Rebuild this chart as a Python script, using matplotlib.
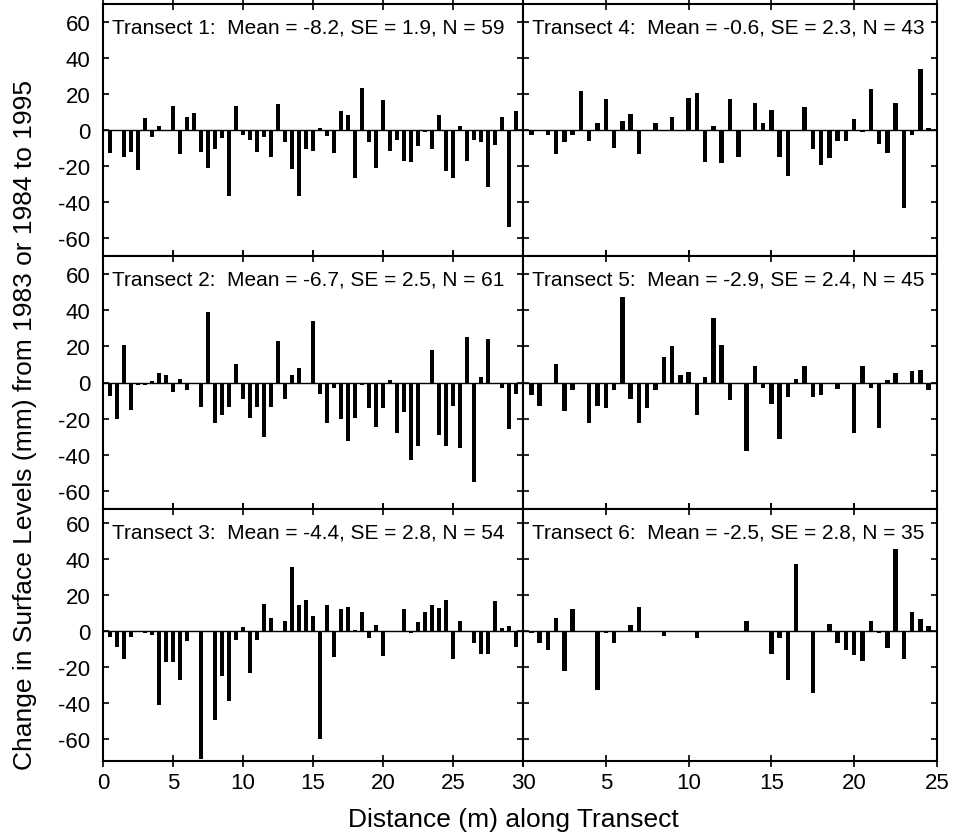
import matplotlib
matplotlib.use("Agg")
import matplotlib.pyplot as plt

plt.rcParams['font.family'] = ['Liberation Sans', 'DejaVu Sans']
plt.rcParams['axes.unicode_minus'] = False

# distance (m) and change (mm)
x1 = [0.5, 1.0, 1.5, 2.0, 2.5, 3.0, 3.5, 4.0, 4.5, 5.0, 5.5, 6.0, 6.5, 7.0, 7.5,
      8.0, 8.5, 9.0, 9.5, 10.0, 10.5, 11.0, 11.5, 12.0, 12.5, 13.0, 13.5, 14.0,
      14.5, 15.0, 15.5, 16.0, 16.5, 17.0, 17.5, 18.0, 18.5, 19.0, 19.5, 20.0,
      20.5, 21.0, 21.5, 22.0, 22.5, 23.0, 23.5, 24.0, 24.5, 25.0, 25.5, 26.0,
      26.5, 27.0, 27.5, 28.0, 28.5, 29.0, 29.5]
y1 = [-13, 0, -15, -12, -22, 6.5, -3.7, 2.4, 0, 13.4, -13.6, 7.4, 9.7, -12, -21,
      -10.6, -4.6, -36.8, 13.4, -2.8, -5.6, -12, -3.7, -14.9, 14.5, -6.9, -21.7,
      -36.8, -10.8, -11.7, 1.3, -3.2, -13, 10.6, 8.4, -26.6, 23.6, -6.9, -21,
      16.7, -11.7, -5.6, -17.1, -17.6, -8.7, -0.9, -10.6, 8.4, -22.5, -26.4, 2.2,
      -17.3, -5.6, -6.9, -31.6, -8.4, 7.4, -53.9, 10.6]

x2 = [0.5, 1.0, 1.5, 2.0, 2.5, 3.0, 3.5, 4.0, 4.5, 5.0, 5.5, 6.0, 7.0, 7.5, 8.0,
      8.5, 9.0, 9.5, 10.0, 10.5, 11.0, 11.5, 12.0, 12.5, 13.0, 13.5, 14.0, 15.0,
      15.5, 16.0, 16.5, 17.0, 17.5, 18.0, 18.5, 19.0, 19.5, 20.0, 20.5, 21.0,
      21.5, 22.0, 22.5, 23.5, 24.0, 24.5, 25.0, 25.5, 26.0, 26.5, 27.0, 27.5,
      28.5, 29.0, 29.5]
y2 = [-7.4, -20.4, 21, -15.4, -1.5, -1.3, 0.9, 5.0, 3.9, -5.0, 1.7, -4.3, -13.4,
      39, -22.3, -18.2, -13.4, 10, -9.3, -19.5, -13.4, -30.3, -13.4, 22.8, -8.9,
      4.1, 8.0, 34, -6.1, -22.3, -2.8, -20, -32.1, -19.5, -1.3, -14.3, -24.5,
      -14.3, 1.3, -28.2, -16.2, -43.1, -35.3, 18, -29.2, -35.3, -13, -36.2, 25,
      -55.2, 3.2, 24.1, -2.8, -26, -6.1]

x3 = [0.5, 1.0, 1.5, 2.0, 3.0, 3.5, 4.0, 4.5, 5.0, 5.5, 6.0, 7.0, 8.0, 8.5, 9.0,
      9.5, 10.0, 10.5, 11.0, 11.5, 12.0, 13.0, 13.5, 14.0, 14.5, 15.0, 15.5,
      16.0, 16.5, 17.0, 17.5, 18.0, 18.5, 19.0, 19.5, 20.0, 21.5, 22.0, 22.5,
      23.0, 23.5, 24.0, 24.5, 25.0, 25.5, 26.5, 27.0, 27.5, 28.0, 28.5, 29.0, 29.5]
y3 = [-3.2, -8.8, -15.5, -3.2, -0.9, -2.2, -40.9, -16.8, -17.2, -27, -5.6, -70.9,
      -49.4, -24.6, -38.6, -5.0, 2.4, -23.3, -5.0, 15.5, 7.6, 5.6, 36, 14.6, 17.7,
      8.6, -60, 14.6, -14.4, 12.7, 13.6, 0.9, 10.8, -3.7, 3.7, -13.4, 12.7, -0.9,
      5.0, 10.8, 14.6, 13.1, 17.7, -15.5, 5.8, -6.5, -12.5, -12.5, 16.8, 2.1,
      2.8, -8.8]

x4 = [0.5, 1.5, 2.0, 2.5, 3.0, 3.5, 4.0, 4.5, 5.0, 5.5, 6.0, 6.5, 7.0, 8.0, 9.0,
      10.0, 10.5, 11.0, 11.5, 12.0, 12.5, 13.0, 14.0, 14.5, 15.0, 15.5, 16.0,
      17.0, 17.5, 18.0, 18.5, 19.0, 19.5, 20.0, 20.5, 21.0, 21.5, 22.0, 22.5,
      23.0, 23.5, 24.0, 24.5]
y4 = [-2.8, -2.8, -13.6, -6.9, -2.8, 21.7, -5.9, 4.1, 17.1, -9.8, 5.0, 8.9, -13.6,
      4.1, 7.1, 18.0, 20.8, -17.6, 2.2, -18.6, 17.1, -14.9, 14.9, 4.1, 11.1,
      -14.9, -25.4, 13.0, -10.8, -19.5, -15.8, -5.9, -5.9, 5.9, -0.9, 22.8, -8.0,
      -13.0, 14.9, -43.3, -2.8, 34.0, 0.9]

x5 = [0.5, 1.0, 2.0, 2.5, 3.0, 4.0, 4.5, 5.0, 5.5, 6.0, 6.5, 7.0, 7.5, 8.0, 8.5,
      9.0, 9.5, 10.0, 10.5, 11.0, 11.5, 12.0, 12.5, 13.5, 14.0, 14.5, 15.0, 15.5,
      16.0, 16.5, 17.0, 17.5, 18.0, 18.5, 19.0, 19.5, 20.0, 20.5, 21.0, 21.5,
      22.0, 22.5, 23.5, 24.0, 24.5]
y5 = [-7.1, -13, 10.2, -15.8, -4.1, -22.3, -13, -14.3, -4.1, 47.4, -8.9, -22.3,
      -14.3, -3.9, 14.3, 20, 4.3, 5.8, -18, 2.8, 35.8, 21, -9.8, -38, 9.3, -3.2,
      -12, -31, -7.8, 2.2, 9.3, -7.8, -6.9, -0.9, -3.7, -0.9, -28.2, 9.3, -2.8,
      -25, 1.5, 5.4, 6.1, 7.1, -4.1]

x6 = [0.5, 1.0, 1.5, 2.0, 2.5, 3.0, 4.5, 5.0, 5.5, 6.5, 7.0, 8.5, 10.5, 13.5,
      15.0, 15.5, 16.0, 16.5, 17.5, 18.5, 19.0, 19.5, 20.0, 20.5, 21.0, 21.5,
      22.0, 22.5, 23.0, 23.5, 24.0, 24.5]
y6 = [-0.7, -6.5, -10.6, 7.5, -22.2, 12.7, -32.6, -0.9, -6.5, 3.7, 13.6, -2.6,
      -3.9, 5.8, -12.5, -3.7, -26.9, 37.3, -34, 3.9, -6.3, -10.3, -12.9, -16.2,
      5.8, -0.9, -9.1, 45.9, -15.3, 10.8, 6.7, 3.0]

labels = ["Transect 1:  Mean = -8.2, SE = 1.9, N = 59",
          "Transect 2:  Mean = -6.7, SE = 2.5, N = 61",
          "Transect 3:  Mean = -4.4, SE = 2.8, N = 54",
          "Transect 4:  Mean = -0.6, SE = 2.3, N = 43",
          "Transect 5:  Mean = -2.9, SE = 2.4, N = 45",
          "Transect 6:  Mean = -2.5, SE = 2.8, N = 35"]

W, H = 973, 837
fig = plt.figure(figsize=(W / 100, H / 100), dpi=100)

# panel edges in pixels
xl, xm, xr = 103, 523, 937
rows = [(5, 257), (257, 510), (510, 762)]
ylims = [(-70, 70), (-70, 70), (-72, 68)]

left_data = [(x1, y1), (x2, y2), (x3, y3)]
right_data = [(x4, y4), (x5, y5), (x6, y6)]

for r in range(3):
    top, bot = rows[r]
    for c in range(2):
        if c == 0:
            x0, x1p = xl, xm
            xs, ys = left_data[r]
            xmax = 30
            lab = labels[r]
        else:
            x0, x1p = xm, xr
            xs, ys = right_data[r]
            xmax = 25
            lab = labels[r + 3]
        ax = fig.add_axes([x0 / W, 1 - bot / H, (x1p - x0) / W, (bot - top) / H])
        ax.bar(xs, ys, width=0.27, color='black', edgecolor='none')
        ax.axhline(0, color='black', lw=1.0)
        ax.set_xlim(0, xmax)
        ax.set_ylim(*ylims[r])
        ax.set_yticks([-60, -40, -20, 0, 20, 40, 60])
        ax.set_xticks(range(0, xmax + 1, 5))
        ax.tick_params(axis='y', direction='in', left=True, right=True,
                       length=4, width=1.2, labelsize=16, pad=9)
        ax.tick_params(axis='x', direction='inout', top=True, bottom=True,
                       length=8, width=1.2, labelsize=16, pad=4)
        for s in ax.spines.values():
            s.set_linewidth(1.5)
        if c == 1:
            ax.set_yticklabels([])
        if r < 2:
            ax.set_xticklabels([])
        elif c == 1:
            ax.set_xticklabels([''] + [str(v) for v in range(5, 26, 5)])
        ax.text(0.021, 0.945, lab, transform=ax.transAxes, va='top', ha='left',
                fontsize=15)

fig.text(0.026, 0.492, "Change in Surface Levels (mm) from 1983 or 1984 to 1995",
         rotation=90, ha='center', va='center', fontsize=19)
fig.text(0.528, 0.02, "Distance (m) along Transect", ha='center', va='center',
         fontsize=19)

fig.savefig("out.png", dpi=100)
